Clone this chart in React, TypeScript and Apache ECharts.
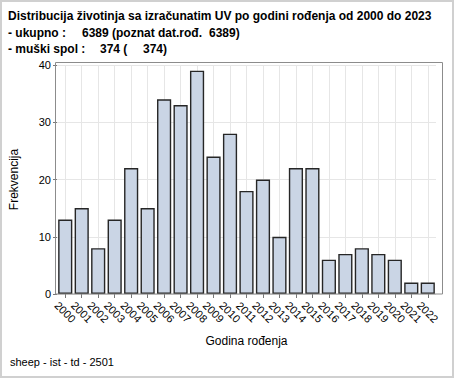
import React, { useEffect, useRef } from "react";
import * as echarts from "echarts";

const years = ["2000","2001","2002","2003","2004","2005","2006","2007","2008","2009","2010","2011","2012","2013","2014","2015","2016","2017","2018","2019","2020","2021","2022"];
const counts = [13, 15, 8, 13, 22, 15, 34, 33, 39, 24, 28, 18, 20, 10, 22, 22, 6, 7, 8, 7, 6, 2, 2];
const yTicks = [0, 10, 20, 30, 40];

const titleLine1 = "Distribucija životinja sa izračunatim UV po godini rođenja od 2000 do 2023";
const titleLine2 = ["- ukupno :", "6389 (poznat dat.rođ.", "6389)"];
const titleLine3 = ["- muški spol :", "374 (", "374)"];
const footer = "sheep - ist - td - 2501";

const FONT = "'Liberation Sans', Arial, sans-serif";

export default function App() {
  const ref = useRef<HTMLDivElement>(null);
  useEffect(() => {
    document.body.style.margin = "0";
    const chart = echarts.init(ref.current!, null, { renderer: "svg" });
    const bold = { fontFamily: FONT, fontSize: 12, fontWeight: "bold" as const, fill: "#000" };
    chart.setOption({
      animation: false,
      backgroundColor: "#fff",
      textStyle: { fontFamily: FONT },
      grid: { left: 57, right: 18, top: 65, bottom: 84, containLabel: false },
      xAxis: {
        type: "category",
        data: years,
        name: "Godina rođenja",
        nameLocation: "middle",
        nameGap: 41,
        nameTextStyle: { fontSize: 12, color: "#000", fontFamily: FONT },
        axisLine: { show: false },
        axisTick: { show: true, alignWithLabel: true, length: 4, lineStyle: { color: "#777" } },
        axisLabel: {
          rotate: -45,
          align: "center",
          verticalAlign: "middle",
          margin: 18,
          fontSize: 11,
          color: "#000",
          interval: 0,
          fontFamily: FONT,
        },
        splitLine: { show: true, alignWithLabel: true, lineStyle: { color: "#e6e6e6" } },
      },
      yAxis: {
        type: "value",
        min: 0,
        max: 40,
        interval: 10,
        name: "Frekvencija",
        nameLocation: "middle",
        nameGap: 37,
        nameTextStyle: { fontSize: 12, color: "#000", fontFamily: FONT },
        axisLine: { show: false },
        axisTick: { show: true, length: 4, lineStyle: { color: "#777" } },
        axisLabel: {
          fontSize: 11,
          color: "#000",
          margin: 6,
          fontFamily: FONT,
          customValues: yTicks,
        },
        splitLine: { show: true, lineStyle: { color: "#e6e6e6" } },
      },
      series: [
        {
          type: "bar",
          data: counts,
          barCategoryGap: "14%",
          itemStyle: { color: "#CAD5E5", borderColor: "#262626", borderWidth: 1.4 },
        },
      ],
      graphic: [
        {
          type: "rect",
          shape: { x: 1, y: 1, width: 452, height: 376 },
          style: { fill: "none", stroke: "#d0d0d0", lineWidth: 2 },
          silent: true,
        },
        {
          type: "rect",
          shape: { x: 55.5, y: 62.5, width: 387, height: 231.5 },
          style: { fill: "none", stroke: "#8c8c8c", lineWidth: 1 },
          silent: true,
          z: 10,
        },
        { type: "text", x: 8, y: 16, style: { ...bold, text: titleLine1, verticalAlign: "middle" } },
        { type: "text", x: 8, y: 33, style: { ...bold, text: titleLine2[0], verticalAlign: "middle" } },
        { type: "text", x: 82, y: 33, style: { ...bold, text: titleLine2[1], verticalAlign: "middle" } },
        { type: "text", x: 209, y: 33, style: { ...bold, text: titleLine2[2], verticalAlign: "middle" } },
        { type: "text", x: 8, y: 49, style: { ...bold, text: titleLine3[0], verticalAlign: "middle" } },
        { type: "text", x: 100, y: 49, style: { ...bold, text: titleLine3[1], verticalAlign: "middle" } },
        { type: "text", x: 143, y: 49, style: { ...bold, text: titleLine3[2], verticalAlign: "middle" } },
        {
          type: "text",
          x: 10,
          y: 362,
          style: { text: footer, fontFamily: FONT, fontSize: 11, fill: "#000", verticalAlign: "middle" },
        },
      ],
    });
    return () => chart.dispose();
  }, []);
  return (
    <div
      ref={ref}
      style={{ position: "fixed", left: 0, top: 0, width: 454, height: 378 }}
    />
  );
}
